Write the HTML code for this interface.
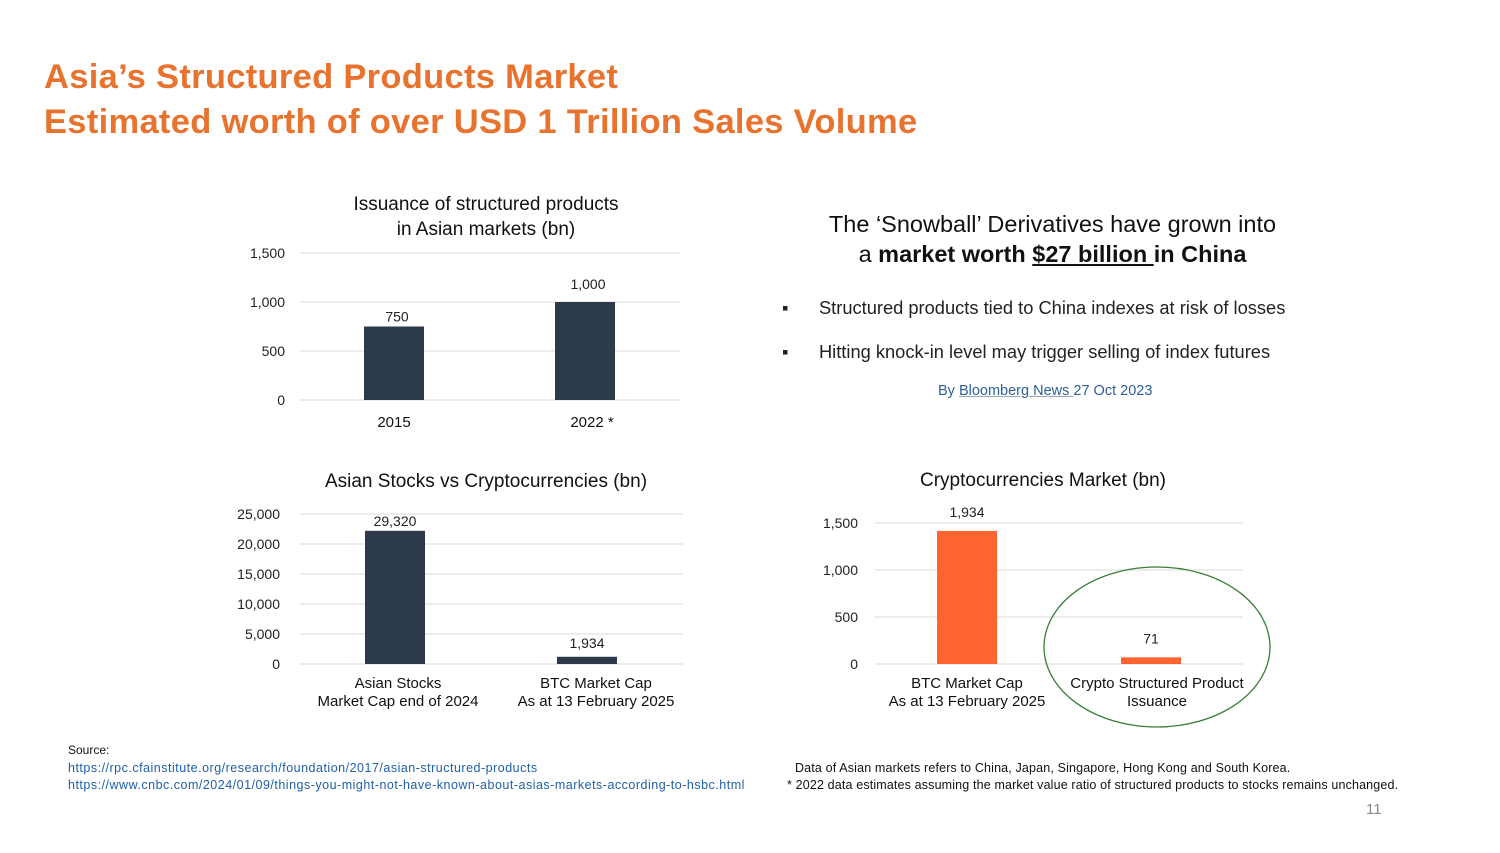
<!DOCTYPE html>
<html><head><meta charset="utf-8">
<style>
body{margin:0;width:1500px;height:853px;background:#fff;position:relative;overflow:hidden;font-family:"Liberation Sans",sans-serif;}
.t{position:absolute;white-space:nowrap;}
h1{position:absolute;left:44px;top:55px;margin:0;font-size:34.5px;line-height:45px;color:#e8732e;font-weight:bold;letter-spacing:0.3px;}
a{color:#1f5fa8;}
</style></head><body>
<h1>Asia’s Structured Products Market<br>Estimated worth of over USD 1 Trillion Sales Volume</h1>

<div class="t" style="left:790px;width:525px;top:209px;text-align:center;font-size:23.5px;line-height:30px;color:#111;">The ‘Snowball’ Derivatives have grown into<br>a <b>market worth <u>$27 billion </u>in China</b></div>
<div class="t" style="left:782px;top:297px;font-size:18.3px;color:#222;">▪&nbsp;&nbsp;&nbsp;&nbsp;&nbsp;&nbsp;Structured products tied to China indexes at risk of losses</div>
<div class="t" style="left:782px;top:341px;font-size:18.3px;color:#222;">▪&nbsp;&nbsp;&nbsp;&nbsp;&nbsp;&nbsp;Hitting knock-in level may trigger selling of index futures</div>
<div class="t" style="left:938px;top:383px;font-size:14.5px;color:#2e5f9a;">By <span style="text-decoration:underline;text-decoration-color:#9ab;">Bloomberg News </span>27 Oct 2023</div>

<div class="t" style="left:68px;top:743px;font-size:12px;color:#111;">Source:</div>
<div class="t" style="left:68px;top:761px;font-size:12.5px;letter-spacing:0.5px;"><a>https://rpc.cfainstitute.org/research/foundation/2017/asian-structured-products</a></div>
<div class="t" style="left:68px;top:778px;font-size:12.5px;letter-spacing:0.5px;"><a>https://www.cnbc.com/2024/01/09/things-you-might-not-have-known-about-asias-markets-according-to-hsbc.html</a></div>
<div class="t" style="left:795px;top:761px;font-size:12.5px;letter-spacing:0.15px;color:#111;">Data of Asian markets refers to China, Japan, Singapore, Hong Kong and South Korea.</div>
<div class="t" style="left:787px;top:778px;font-size:12.5px;letter-spacing:0.15px;color:#111;">* 2022 data estimates assuming the market value ratio of structured products to stocks remains unchanged.</div>
<div class="t" style="left:1366px;top:801px;font-size:15px;color:#888;">11</div>

<svg id="charts" width="1500" height="853" style="position:absolute;left:0;top:0;"></svg>

<script>
// Chart 1: Issuance of structured products
const c1Categories = ["2015", "2022 *"];
const c1Values = [750, 1000];
const c1Labels = ["750", "1,000"];
const c1Ticks = [0, 500, 1000, 1500];
const c1TickLabels = ["0", "500", "1,000", "1,500"];
// Chart 2: Asian Stocks vs Crypto (bar heights as drawn)
const c2Categories = [["Asian Stocks","Market Cap end of 2024"], ["BTC Market Cap","As at 13 February 2025"]];
const c2Values = [22200, 1200];
const c2Labels = ["29,320", "1,934"];
const c2Ticks = [0, 5000, 10000, 15000, 20000, 25000];
const c2TickLabels = ["0", "5,000", "10,000", "15,000", "20,000", "25,000"];
// Chart 3: Cryptocurrencies Market (bar heights as drawn)
const c3Categories = [["BTC Market Cap","As at 13 February 2025"], ["Crypto Structured Product","Issuance"]];
const c3Values = [1415, 71];
const c3Labels = ["1,934", "71"];
const c3Ticks = [0, 500, 1000, 1500];
const c3TickLabels = ["0", "500", "1,000", "1,500"];

const svg = document.getElementById('charts');
const NS = 'http://www.w3.org/2000/svg';
function mk(tag, attrs, text){
  const e = document.createElementNS(NS, tag);
  for (const k in attrs) e.setAttribute(k, attrs[k]);
  if (text !== undefined) e.textContent = text;
  svg.appendChild(e);
  return e;
}
function chart(o){
  const y = v => o.y0 - (v / o.max) * (o.y0 - o.yTop);
  const t = mk('text', {x:o.titleX, y:o.titleY, 'text-anchor':'middle', 'font-size':19, fill:'#111'});
  
  
  o.title.forEach((line, i) => {
    const ts = document.createElementNS(NS, 'tspan');
    ts.setAttribute('x', o.titleX); ts.setAttribute('dy', i ? 25 : 0);
    ts.textContent = line; t.appendChild(ts);
  });
  o.ticks.forEach((v, i) => {
    const g = mk('line', {x1:o.x0, x2:o.x1, y1:y(v), y2:y(v), stroke:'#d9d9d9', 'stroke-width':1});
    
    
    const tl = mk('text', {x:o.tickX, y:y(v) + 5, 'text-anchor':'end', 'font-size':14, fill:'#222'}, o.tickLabels[i]);
    
    
  });
  o.values.forEach((v, i) => {
    const cx = o.centers[i];
    const b = mk('rect', {x:cx - 30, y:y(v), width:60, height:o.y0 - y(v), fill:o.color});
    
    
    const l = mk('text', {x:cx + (o.labelDx||0), y:y(v) - o.labelOff[i], 'text-anchor':'middle', 'font-size':14, fill:'#222'}, o.labels[i]);
    
    
    const cat = [].concat(o.categories[i]);
    cat.forEach((line, j) => {
      const c = mk('text', {x:o.catX[i], y:o.catY + j*18, 'text-anchor':'middle', 'font-size':15, fill:'#111'}, line);
      
      
    });
  });
}
chart({name:'issuance-chart', title:['Issuance of structured products','in Asian markets (bn)'], titleX:486, titleY:210,
  x0:300, x1:680, y0:400, yTop:253, max:1500, ticks:c1Ticks, tickLabels:c1TickLabels, tickX:285,
  values:c1Values, labels:c1Labels, categories:c1Categories, centers:[394,585], catX:[394,592], catY:427,
  color:'#2d3a4b', labelOff:[5,13], labelDx:3});
chart({name:'stocks-vs-crypto-chart', title:['Asian Stocks vs Cryptocurrencies (bn)'], titleX:486, titleY:487,
  x0:300, x1:683, y0:664, yTop:514, max:25000, ticks:c2Ticks, tickLabels:c2TickLabels, tickX:280,
  values:c2Values, labels:c2Labels, categories:c2Categories, centers:[395,587], catX:[398,596], catY:688,
  color:'#2d3a4b', labelOff:[5,9], labelDx:0});
chart({name:'crypto-market-chart', title:['Cryptocurrencies Market (bn)'], titleX:1043, titleY:486,
  x0:875, x1:1243, y0:664, yTop:523, max:1500, ticks:c3Ticks, tickLabels:c3TickLabels, tickX:858,
  values:c3Values, labels:c3Labels, categories:c3Categories, centers:[967,1151], catX:[967,1157], catY:688,
  color:'#ff6430', labelOff:[14,14], labelDx:0});
const el = mk('ellipse', {cx:1157, cy:647, rx:113, ry:80, fill:'none', stroke:'#3a7d3a', 'stroke-width':1.3});


</script>
</body></html>
